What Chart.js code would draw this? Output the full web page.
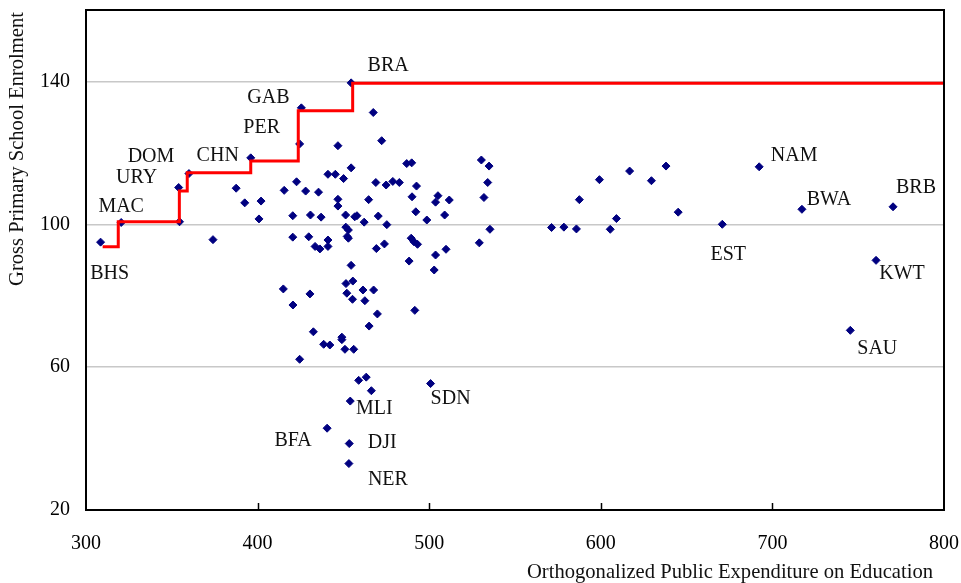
<!DOCTYPE html>
<html>
<head>
<meta charset="utf-8">
<title>Enrolment vs expenditure</title>
<script src="https://cdn.jsdelivr.net/npm/chart.js@4.4.1/dist/chart.umd.min.js"></script>
<style>
  html, body { margin: 0; padding: 0; background: #fff; }
  #wrap { width: 961px; height: 583px; }
</style>
</head>
<body>
<div id="wrap"><canvas id="scatter" width="961" height="583"></canvas></div>
<script>
// tick values
const xTicks = [300, 400, 500, 600, 700, 800];
const yTicks = [20, 60, 100, 140];

// labelled countries
const namedCodes = ['BHS', 'MAC', 'URY', 'DOM', 'CHN', 'PER', 'GAB', 'BRA',
  'SDN', 'MLI', 'BFA', 'DJI', 'NER', 'NAM', 'BWA', 'BRB', 'EST', 'KWT', 'SAU'];
const namedExpenditure = [308.5, 320.5, 354, 360, 396, 424.5, 425.5, 454.5,
  500.8, 454, 440.5, 453.4, 453.2, 692.3, 717.2, 770.3, 670.8, 760.4, 745.4];
const namedEnrolment = [95, 100.5, 110.3, 114.2, 118.6, 122.5, 132.6, 139.6,
  55.4, 50.5, 42.9, 38.6, 33, 116.1, 104.2, 104.9, 100, 89.9, 70.3];

// all other countries
const otherExpenditure = [354.5, 374, 387.5, 392.5, 402, 400.8, 415.5, 422.7, 428, 435.5,
  420.5, 430.8, 437, 420.5, 429.8, 433.5, 436.3, 441, 441, 446.8,
  441, 445.3, 450.1, 454.5, 446.8, 446.8, 451.3, 456.6, 457.9, 462.1,
  464.7, 468.9, 470.3, 451.4, 452.9, 452.2, 452.9, 469.2, 454.5, 451.5,
  455.5, 452, 461.4, 467.6, 415, 430.5, 467.4, 472.3, 530.4, 534.9,
  486.9, 489.8, 534.1, 474.9, 478.8, 482.6, 492.6, 531.9, 490, 505.1,
  503.7, 511.7, 475.3, 492.2, 498.6, 509, 535.4, 473.9, 489.5, 491.1,
  493.2, 509.8, 503.7, 529.2, 488.3, 502.9, 455.3, 462.5, 469.8, 491.6,
  465, 432.5, 449.1, 449.1, 438.5, 442.1, 450.9, 456, 424.5, 420.6,
  458.9, 463.3, 466.3, 571.3, 578.5, 585.8, 587.5, 599.2, 605.5, 609.1,
  616.8, 629.5, 638, 645.1];
const otherEnrolment = [100.7, 95.7, 110.1, 106, 106.5, 101.5, 109.5, 111.9, 109.3, 109,
  102.4, 102.6, 102, 96.4, 96.5, 93.8, 93.1, 95.6, 93.8, 122,
  114, 114, 112.8, 115.8, 107, 105.1, 102.6, 102.1, 102.4, 100.6,
  106.9, 111.7, 102.3, 99.2, 98.4, 96.6, 96.1, 93.2, 88.5, 83.4,
  84.1, 80.7, 81.6, 81.6, 81.9, 80.5, 131.3, 123.4, 118, 116.3,
  117, 117.2, 111.7, 111, 112, 111.7, 110.7, 107.5, 107.7, 108,
  106.2, 106.8, 99.9, 103.5, 101.2, 102.6, 98.6, 94.5, 96.1, 95.1,
  94.4, 93, 91.4, 94.8, 89.7, 87.2, 79, 78.6, 74.9, 75.9,
  71.5, 69.9, 68.4, 67.7, 66.4, 66.2, 65, 65, 62.2, 77.4,
  56.3, 57.2, 53.4, 99.1, 99.2, 98.7, 106.9, 112.5, 98.6, 101.6,
  114.9, 112.2, 116.3, 103.4];

// best-practice frontier (step corners)
const frontierX = [309.7, 318.8, 354.4, 359, 396, 423.7, 455.4, 800];
const frontierY = [93.7, 100.7, 109.3, 114.4, 117.7, 131.8, 139.5, 139.5];

const FONT = '"Liberation Serif", "Times New Roman", serif';

function toPoints(xs, ys) {
  return xs.map((x, i) => ({ x: x, y: ys[i] }));
}

// fixed axis boxes, no extra room for label overflow
function fixBox(s, size) {
  if (s.isHorizontal()) s.height = size; else s.width = size;
  s.paddingTop = s.paddingBottom = s.paddingLeft = s.paddingRight = 0;
}

// where each country code sits relative to its marker (px)
const labelOffsets = {
  BHS: [9, 32], MAC: [0, -16], URY: [-42, -10], DOM: [-38, -17], CHN: [-33, -2],
  PER: [-38, -16], GAB: [-33, -10], BRA: [37, -17], SDN: [20, 15], MLI: [24, 8],
  BFA: [-34, 13], DJI: [33, -1], NER: [39, 16], NAM: [35, -11], BWA: [27, -10],
  BRB: [23, -19], EST: [6, 30], KWT: [26, 13], SAU: [27, 18]
};

const decorations = {
  id: 'decorations',
  afterDraw(chart) {
    const ctx = chart.ctx;
    const area = chart.chartArea;
    const xs = chart.scales.x;
    const ys = chart.scales.y;
    ctx.save();

    // inward tick marks on the x axis
    ctx.strokeStyle = '#000';
    ctx.lineWidth = 1.5;
    xTicks.slice(1, -1).forEach(v => {
      const px = Math.round(xs.getPixelForValue(v)) + 0.5;
      ctx.beginPath();
      ctx.moveTo(px, area.bottom);
      ctx.lineTo(px, area.bottom - 7);
      ctx.stroke();
    });

    // plot frame
    ctx.lineWidth = 2;
    ctx.strokeRect(area.left, area.top, area.right - area.left, area.bottom - area.top);

    // country codes
    ctx.fillStyle = '#111';
    ctx.font = '20px ' + FONT;
    ctx.textAlign = 'center';
    ctx.textBaseline = 'middle';
    namedCodes.forEach((code, i) => {
      const off = labelOffsets[code];
      const px = xs.getPixelForValue(namedExpenditure[i]);
      const py = ys.getPixelForValue(namedEnrolment[i]);
      ctx.fillText(code, px + off[0], py + off[1]);
    });

    // axis titles
    ctx.font = '20.6px ' + FONT;
    ctx.textAlign = 'right';
    ctx.fillText('Orthogonalized Public Expenditure on Education', area.right - 11, 573);
    ctx.translate(18, area.top + 2);
    ctx.rotate(-Math.PI / 2);
    ctx.textAlign = 'right';
    ctx.fillText('Gross Primary School Enrolment', 0, 0);
    ctx.restore();
  }
};

document.addEventListener('DOMContentLoaded', function() {
  const ctx = document.getElementById('scatter').getContext('2d');

  new Chart(ctx, {
    type: 'scatter',
    data: {
      datasets: [
        {
          type: 'line',
          label: 'Frontier',
          data: toPoints(frontierX, frontierY),
          stepped: 'before',
          borderColor: '#ff0000',
          borderWidth: 3,
          pointRadius: 0,
          fill: false
        },
        {
          label: 'Countries',
          data: toPoints(namedExpenditure, namedEnrolment).concat(toPoints(otherExpenditure, otherEnrolment)),
          pointStyle: 'rectRot',
          pointRadius: 4,
          borderWidth: 1,
          backgroundColor: '#000080',
          borderColor: '#000080'
        }
      ]
    },
    options: {
      responsive: false,
      animation: false,
      layout: { padding: { top: 10, right: 17, left: 0, bottom: 0 } },
      plugins: {
        legend: { display: false },
        tooltip: { enabled: false }
      },
      scales: {
        x: {
          type: 'linear',
          min: 300,
          max: 800,
          afterFit: s => fixBox(s, 73),
          afterBuildTicks: s => { s.ticks = xTicks.map(v => ({ value: v })); },
          grid: { display: false, drawTicks: false },
          border: { display: false },
          ticks: { padding: 22, color: '#000', font: { family: FONT, size: 20 } }
        },
        y: {
          type: 'linear',
          min: 20,
          max: 160,
          afterFit: s => fixBox(s, 86),
          afterBuildTicks: s => { s.ticks = yTicks.map(v => ({ value: v })); },
          grid: { color: '#c8c8c8', lineWidth: 1.5, drawTicks: false },
          border: { display: false },
          ticks: { padding: 16, color: '#000', font: { family: FONT, size: 20 } }
        }
      }
    },
    plugins: [decorations]
  });
});
</script>
</body>
</html>
